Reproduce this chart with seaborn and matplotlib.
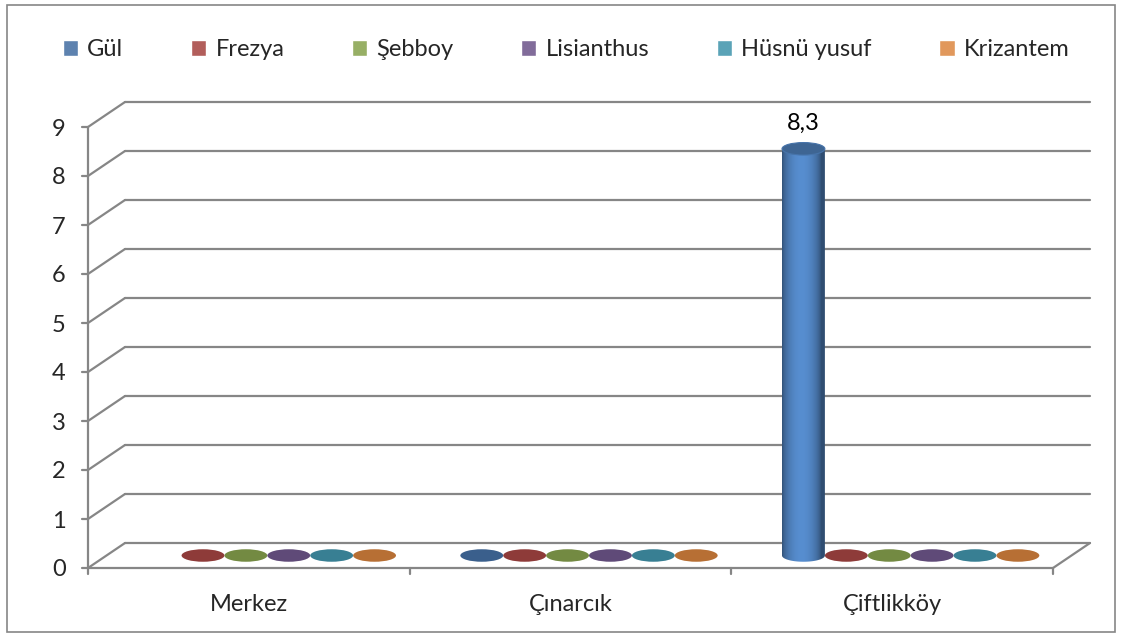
import numpy as np
import pandas as pd
import matplotlib
matplotlib.use("Agg")
import matplotlib.pyplot as plt
import seaborn as sns
from matplotlib.patches import Ellipse, Rectangle, PathPatch
from matplotlib.path import Path
from matplotlib.transforms import ScaledTranslation

# data
regions = ["Merkez", "Çınarcık", "Çiftlikköy"]
flowers = ["Gül", "Frezya", "Şebboy", "Lisianthus", "Hüsnü yusuf", "Krizantem"]
gul = [np.nan, 0, 8.3]
frezya = [0, 0, 0]
sebboy = [0, 0, 0]
lisianthus = [0, 0, 0]
husnu_yusuf = [0, 0, 0]
krizantem = [0, 0, 0]
yticks = list(range(0, 10))

COLORS = ["#4F81BD", "#C0504D", "#9BBB59", "#8064A2", "#4BACC6", "#F79646"]
GRID = "#868686"

series = [gul, frezya, sebboy, lisianthus, husnu_yusuf, krizantem]
df = pd.DataFrame({
    "region": np.repeat([regions], len(flowers), axis=0).ravel(),
    "flower": np.repeat(flowers, len(regions)),
    "value": np.concatenate(series),
})

sns.set_style("white")
plt.rcParams["font.family"] = ["Lato", "DejaVu Sans"]
FS = 17

fig = plt.figure(figsize=(11.21, 6.37), dpi=100)
ax = fig.add_axes([106.5 / 1121, 81.5 / 637, 965 / 1121, 441 / 637])

sns.barplot(data=df, x="region", y="value", hue="flower", order=regions,
            hue_order=flowers, palette=COLORS, width=0.8, ax=ax,
            errorbar=None, legend=True)

ax.set_xlim(-0.5, 2.5)
ax.set_ylim(0, 9)

# depth offsets (half depth) in data units
px_x = 965 / 3
px_y = 441 / 9
dx = 18.5 / px_x
dy = 12.5 / px_y
eh = 12.5 / px_y  # ellipse height


def shade(c, f):
    r = np.array(matplotlib.colors.to_rgb(c)) * f
    return np.clip(r, 0, 1)


# cylinders built from the seaborn bar patches
for i, cont in enumerate(ax.containers):
    base = COLORS[i]
    for bar in cont:
        h = bar.get_height()
        if h is None or np.isnan(h):
            bar.set_visible(False)
            continue
        x, w = bar.get_x(), bar.get_width()
        bar.set_facecolor("none")
        bar.set_edgecolor("none")
        if h <= 0:
            ax.add_patch(Ellipse((x + w / 2, 0), w, eh, facecolor=shade(base, 0.74),
                                 edgecolor="none", zorder=3, clip_on=False))
            continue
        # body outline: rectangle with elliptical bottom
        t = np.linspace(np.pi, 2 * np.pi, 40)
        arc = np.column_stack([x + w / 2 + w / 2 * np.cos(t), eh / 2 * np.sin(t)])
        verts = np.vstack([[x, h], [x, 0], arc, [x + w, 0], [x + w, h], [x, h]])
        body = PathPatch(Path(verts), facecolor="none", edgecolor="none",
                         transform=ax.transData, clip_on=False)
        ax.add_patch(body)
        tt = np.linspace(0, 1, 200)
        prof = 0.6 + 0.5 * np.sin(np.pi * np.clip(tt * 1.1, 0, 1)) ** 0.6
        grad = np.array([shade(base, f) for f in prof])[None, :, :]
        im = ax.imshow(grad, extent=[x, x + w, -eh / 2, h], aspect="auto",
                       interpolation="bilinear", zorder=2)
        im.set_clip_box(fig.bbox)
        im.set_clip_path(body)
        ax.add_patch(Ellipse((x + w / 2, h), w, eh, facecolor=shade(base, 0.78),
                             edgecolor=shade(base, 0.9), lw=0.8, zorder=3))
        ax.text(x + w / 2, h + 0.3, f"{h:.1f}".replace(".", ","), ha="center",
                va="bottom", fontsize=FS, color="black")

ax.set_xlim(-0.5, 2.5)
ax.set_ylim(0, 9)

# back wall gridlines and left wall diagonals
kw = dict(color=GRID, lw=1.6, clip_on=False, zorder=1)
for v in yticks:
    ax.plot([-0.5 + dx, 2.5 + dx], [v + dy, v + dy], **kw)
    ax.plot([-0.5 - dx, -0.5 + dx], [v - dy, v + dy], **kw)
    ax.plot([-0.5 - dx - 6 / px_x, -0.5 - dx], [v - dy, v - dy], **kw)
ax.plot([-0.5 - dx, -0.5 - dx], [-dy, 9 - dy], **kw)
ax.plot([-0.5 - dx, 2.5 - dx], [-dy, -dy], **kw)
ax.plot([2.5 - dx, 2.5 + dx], [-dy, dy], **kw)
for b in [-0.5, 0.5, 1.5, 2.5]:
    ax.plot([b - dx, b - dx], [-dy, -dy - 6 / px_y], **kw)

sns.despine(ax=ax, left=True, bottom=True)
ax.set_xlabel("")
ax.set_ylabel("")
ax.set_yticks(yticks)
ax.tick_params(axis="both", length=0, labelsize=FS)
ax.tick_params(axis="y", pad=16)
ax.tick_params(axis="x", pad=19)
shift = ScaledTranslation(-18.5 / 100, -12.5 / 100, fig.dpi_scale_trans)
for lab in ax.get_xticklabels() + ax.get_yticklabels():
    lab.set_transform(lab.get_transform() + shift)

# legend on top
sns.move_legend(ax, "center", bbox_to_anchor=(0.505, 1 - 50 / 637),
                bbox_transform=fig.transFigure, ncol=6, frameon=False, title=None,
                fontsize=FS, handlelength=0.65, handleheight=0.65,
                handletextpad=0.4, columnspacing=2.85)

# outer border
fig.patches.append(Rectangle((7 / 1121, 5 / 637), 1108 / 1121, 627 / 637,
                             transform=fig.transFigure, fill=False,
                             edgecolor=GRID, lw=1.2))

fig.savefig("out.png", dpi=100)
